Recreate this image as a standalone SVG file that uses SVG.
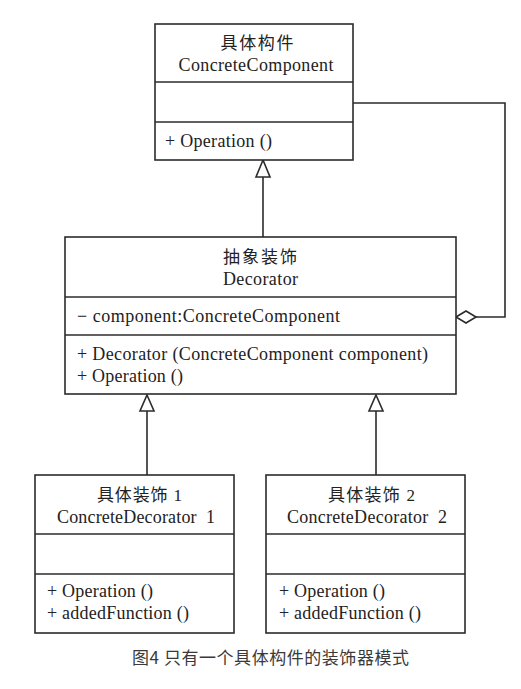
<svg xmlns="http://www.w3.org/2000/svg" width="521" height="689" viewBox="0 0 521 689">
<defs>
<style>
.box{fill:#fff;stroke:#2b2b2b;stroke-width:1.6}
.sep{stroke:#2b2b2b;stroke-width:1.6}
.ln{fill:none;stroke:#2b2b2b;stroke-width:1.6}
.head{fill:#fff;stroke:#2b2b2b;stroke-width:1.6}
.t{font-family:"Liberation Serif","Noto Sans CJK SC",serif;font-size:18px;fill:#222}
.cn{font-family:"Liberation Serif","Noto Sans CJK SC",serif;font-size:17px;fill:#222}
.c{text-anchor:middle}
.cap{font-family:"Noto Sans CJK SC","Liberation Sans",sans-serif;font-size:17px;fill:#3a3a3a;text-anchor:middle}
</style>
</defs>
<rect width="521" height="689" fill="#fff"/>
<g id="connectors">
<path class="ln" d="M263,237 V177"/>
<path class="head" d="M263,160 L270,177 L256,177 Z"/>
<path class="ln" d="M147,475 V411"/>
<path class="head" d="M147,395 L154,411 L140,411 Z"/>
<path class="ln" d="M376,475 V411"/>
<path class="head" d="M376,395 L383,411 L369,411 Z"/>
<path class="ln" d="M353,103 H505 V317 H476"/>
<path class="head" d="M456,317 L466,311 L476,317 L466,323 Z"/>
</g>
<g id="concrete-component">
<rect class="box" x="155" y="24" width="198" height="136"/>
<line class="sep" x1="155" y1="82" x2="353" y2="82"/>
<line class="sep" x1="155" y1="122" x2="353" y2="122"/>
<text class="cn c" x="257" y="49" textLength="73">具体构件</text>
<text class="t c" x="256" y="71" textLength="155">ConcreteComponent</text>
<text class="t" x="165" y="147" textLength="107">+ Operation ()</text>
</g>
<g id="decorator">
<rect class="box" x="65" y="237" width="391" height="157"/>
<line class="sep" x1="65" y1="297" x2="456" y2="297"/>
<line class="sep" x1="65" y1="335" x2="456" y2="335"/>
<text class="cn c" x="260" y="263" textLength="74">抽象装饰</text>
<text class="t c" x="260.5" y="285" textLength="75">Decorator</text>
<text class="t" x="77" y="322" textLength="263">− component:ConcreteComponent</text>
<text class="t" x="77" y="360" textLength="351">+ Decorator (ConcreteComponent component)</text>
<text class="t" x="77" y="382" textLength="106">+ Operation ()</text>
</g>
<g id="concrete-decorator-1">
<rect class="box" x="35" y="475" width="199" height="158"/>
<line class="sep" x1="35" y1="534" x2="234" y2="534"/>
<line class="sep" x1="35" y1="574" x2="234" y2="574"/>
<text class="cn c" x="139.5" y="501" textLength="85">具体装饰 1</text>
<text class="t c" x="136" y="523" textLength="158">ConcreteDecorator&#160; 1</text>
<text class="t" x="47" y="597" textLength="106">+ Operation ()</text>
<text class="t" x="47" y="619" textLength="142">+ addedFunction ()</text>
</g>
<g id="concrete-decorator-2">
<rect class="box" x="266" y="475" width="199" height="158"/>
<line class="sep" x1="266" y1="534" x2="465" y2="534"/>
<line class="sep" x1="266" y1="574" x2="465" y2="574"/>
<text class="cn c" x="371.5" y="501" textLength="87">具体装饰 2</text>
<text class="t c" x="367" y="523" textLength="160">ConcreteDecorator&#160; 2</text>
<text class="t" x="279" y="597" textLength="106">+ Operation ()</text>
<text class="t" x="279" y="619" textLength="142">+ addedFunction ()</text>
</g>
<text class="cap" x="270.5" y="664" textLength="277">图4 只有一个具体构件的装饰器模式</text>
</svg>
